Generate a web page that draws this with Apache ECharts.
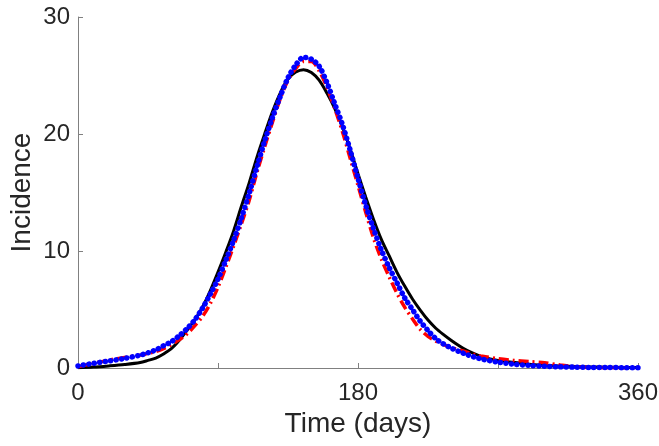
<!DOCTYPE html>
<html>
<head>
<meta charset="utf-8">
<script src="https://cdn.jsdelivr.net/npm/echarts@6/dist/echarts.min.js"></script>
<style>
  html, body { margin: 0; padding: 0; background: #fff; }
  #chart { width: 659px; height: 446px; }
</style>
</head>
<body>
<div id="chart"></div>
<script>
// sample days: every 10 at the ends, every 5 through the epidemic wave
var days = [0, 10, 20, 30,
  40, 45, 50, 55, 60, 65, 70, 75, 80, 85,
  90, 95, 100, 105, 110, 115, 120, 125, 130, 135,
  140, 145, 150, 155, 160, 165, 170, 175, 180, 185,
  190, 195, 200, 205, 210, 215, 220, 225, 230, 235,
  240, 245, 250, 255, 260,
  270, 280, 290, 300, 310, 320, 330, 340, 350, 360];

var model = [0.03, 0.08, 0.18, 0.3,
  0.47, 0.65, 0.85, 1.2, 1.65, 2.35, 3.2, 4.1, 5.2, 6.6,
  8.2, 9.9, 11.7, 13.8, 15.8, 18.0, 20.0, 21.9, 23.5, 24.7,
  25.3, 25.5, 25.25, 24.6, 23.5, 22.2, 20.6, 18.7, 16.6, 14.6,
  12.7, 11.0, 9.6, 8.2, 7.0, 5.9, 4.95, 4.1, 3.4, 2.85,
  2.35, 1.9, 1.5, 1.2, 0.95,
  0.65, 0.48, 0.33, 0.24, 0.17, 0.12, 0.09, 0.07, 0.05, 0.04];

var fitRed = [0.1, 0.4, 0.68, 0.9,
  1.1, 1.25, 1.4, 1.65, 2.0, 2.4, 2.9, 3.6, 4.4, 5.5,
  6.9, 8.6, 10.4, 12.3, 14.3, 16.7, 18.9, 21.0, 23.0, 24.6,
  25.6, 26.2, 26.2, 25.4, 24.0, 22.2, 20.2, 17.9, 15.6, 13.3,
  11.1, 9.3, 7.8, 6.4, 5.2, 4.2, 3.3, 2.7, 2.3, 2.0,
  1.75, 1.55, 1.35, 1.15, 1.0,
  0.8, 0.65, 0.55, 0.45, 0.25, 0.1, 0.04, 0.02, 0.01, 0.01];

var fitBlue = [0.17, 0.4, 0.6, 0.82,
  1.1, 1.3, 1.55, 1.9, 2.25, 2.75, 3.35, 4.1, 5.1, 6.3,
  7.6, 9.2, 10.9, 12.8, 14.9, 17.2, 19.4, 21.4, 23.2, 24.8,
  25.9, 26.55, 26.4, 25.8, 24.4, 22.6, 20.8, 18.6, 16.2, 13.9,
  11.9, 10.1, 8.6, 7.3, 6.0, 5.0, 4.0, 3.2, 2.5, 2.05,
  1.7, 1.4, 1.15, 0.93, 0.75,
  0.5, 0.33, 0.22, 0.15, 0.1, 0.07, 0.05, 0.04, 0.03, 0.02];

var xTicks = ['0', '', '180', '', '360'];

function pairs(vals) {
  return days.map(function (d, i) { return [d, vals[i]]; });
}

var font = 'Liberation Sans, Arial, sans-serif';
var chart = echarts.init(document.getElementById('chart'));
chart.setOption({
  animation: false,
  grid: { left: 78, right: 21, top: 17, bottom: 78, outerBoundsMode: 'none' },
  xAxis: {
    type: 'value',
    min: 0, max: 360, interval: 90,
    name: 'Time (days)',
    nameLocation: 'middle',
    nameGap: 39,
    nameTextStyle: { fontFamily: font, fontSize: 28, color: '#262626' },
    axisLine: { lineStyle: { color: '#808080', width: 1 } },
    axisTick: { inside: true, length: 5, lineStyle: { color: '#808080' } },
    axisLabel: {
      margin: 13, fontFamily: font, fontSize: 24, color: '#262626',
      formatter: function (v) { return xTicks[Math.round(v / 90)]; }
    },
    splitLine: { show: false }
  },
  yAxis: {
    type: 'value',
    min: 0, max: 30, interval: 10,
    name: 'Incidence',
    nameLocation: 'middle',
    nameGap: 42,
    nameMoveOverlap: false,
    nameTextStyle: { fontFamily: font, fontSize: 28, color: '#262626' },
    axisLine: { show: true, lineStyle: { color: '#808080', width: 1 } },
    axisTick: { show: true, inside: true, length: 5, lineStyle: { color: '#808080' } },
    axisLabel: { margin: 8, fontFamily: font, fontSize: 24, color: '#262626' },
    splitLine: { show: false }
  },
  series: [
    {
      type: 'line', data: pairs(model), smooth: 0.3, showSymbol: false,
      lineStyle: { color: '#000', width: 3 }
    },
    {
      type: 'line', data: pairs(fitRed), smooth: 0.3, showSymbol: false,
      lineStyle: { color: '#ff0000', width: 3.5, type: [10, 4, 2, 4] }
    },
    {
      type: 'line', data: pairs(fitBlue), smooth: 0.3, showSymbol: false,
      lineStyle: { color: '#0000ff', width: 5.5, type: [0.1, 5.4], cap: 'round' }
    }
  ]
});
</script>
</body>
</html>
